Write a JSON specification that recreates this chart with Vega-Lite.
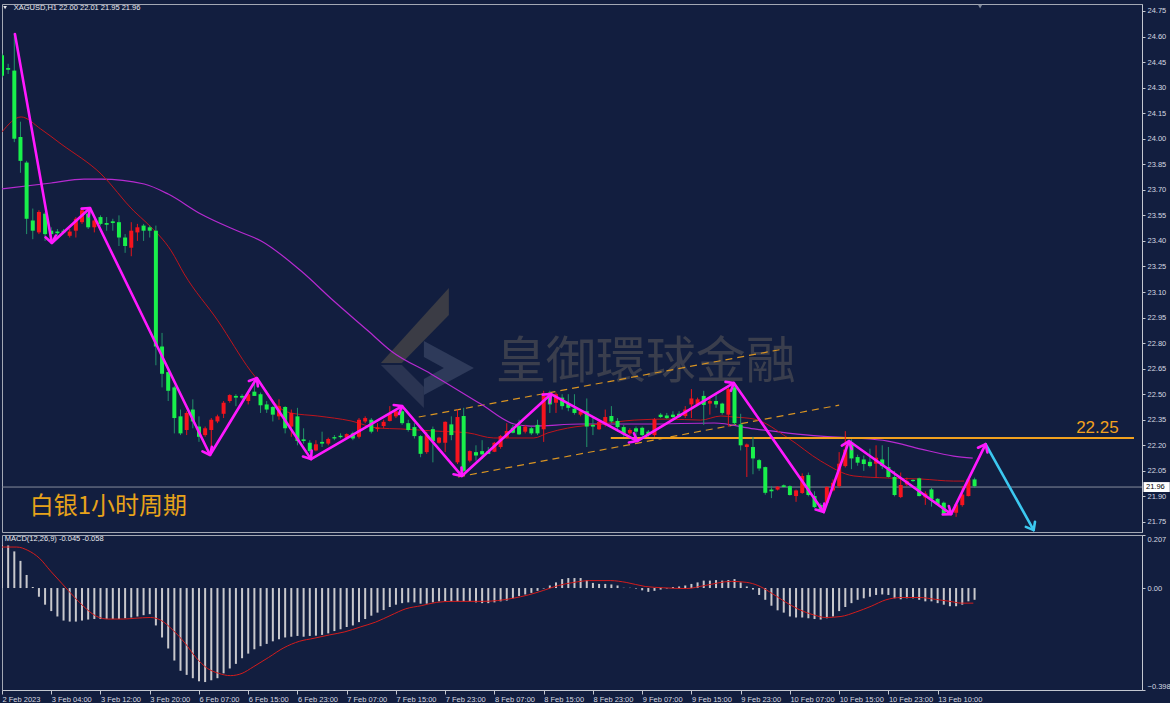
{
"$schema":"https://vega.github.io/schema/vega-lite/v6.json",
"background":"#121e3f",
"padding":{"left":1,"top":3,"right":0,"bottom":0},
"spacing":3,
"bounds":"flush",
"config":{
 "view":{"stroke":"#a3a8b4","strokeWidth":1},
 "scale":{"continuousPadding":0},
 "axis":{"labelColor":"#d6d9e0","tickColor":"#c3c7d0","domainColor":"#c3c7d0","labelFont":"Liberation Sans","labelFontSize":7.5,"grid":false,"tickSize":3,"labelPadding":2,"labelOverlap":false,"labelSeparation":0},
 "text":{"font":"Liberation Sans"}
},
"datasets":{
"candles":[
{"i":0,"o":24.49,"h":24.5,"l":24.36,"c":24.37},
{"i":1,"o":24.415,"h":24.44,"l":24.38,"c":24.405},
{"i":2,"o":24.4,"h":24.62,"l":23.98,"c":24.0},
{"i":3,"o":24.01,"h":24.1,"l":23.8,"c":23.87},
{"i":4,"o":23.86,"h":23.87,"l":23.44,"c":23.53},
{"i":5,"o":23.52,"h":23.59,"l":23.41,"c":23.46},
{"i":6,"o":23.45,"h":23.58,"l":23.44,"c":23.57},
{"i":7,"o":23.56,"h":23.57,"l":23.4,"c":23.44},
{"i":8,"o":23.46,"h":23.48,"l":23.42,"c":23.44},
{"i":9,"o":23.455,"h":23.47,"l":23.43,"c":23.445},
{"i":10,"o":23.46,"h":23.47,"l":23.44,"c":23.45},
{"i":11,"o":23.43,"h":23.47,"l":23.42,"c":23.455},
{"i":12,"o":23.46,"h":23.54,"l":23.42,"c":23.53},
{"i":13,"o":23.51,"h":23.59,"l":23.5,"c":23.58},
{"i":14,"o":23.56,"h":23.6,"l":23.47,"c":23.48},
{"i":15,"o":23.48,"h":23.53,"l":23.45,"c":23.52},
{"i":16,"o":23.54,"h":23.55,"l":23.49,"c":23.5},
{"i":17,"o":23.505,"h":23.54,"l":23.46,"c":23.495},
{"i":18,"o":23.515,"h":23.53,"l":23.46,"c":23.505},
{"i":19,"o":23.51,"h":23.55,"l":23.37,"c":23.42},
{"i":20,"o":23.42,"h":23.44,"l":23.33,"c":23.37},
{"i":21,"o":23.36,"h":23.51,"l":23.31,"c":23.46},
{"i":22,"o":23.45,"h":23.5,"l":23.4,"c":23.48},
{"i":23,"o":23.49,"h":23.5,"l":23.4,"c":23.46},
{"i":24,"o":23.48,"h":23.49,"l":23.42,"c":23.46},
{"i":25,"o":23.46,"h":23.49,"l":22.67,"c":22.78},
{"i":26,"o":22.78,"h":22.86,"l":22.54,"c":22.62},
{"i":27,"o":22.63,"h":22.65,"l":22.46,"c":22.52},
{"i":28,"o":22.54,"h":22.55,"l":22.27,"c":22.36},
{"i":29,"o":22.37,"h":22.41,"l":22.26,"c":22.27},
{"i":30,"o":22.29,"h":22.4,"l":22.26,"c":22.39},
{"i":31,"o":22.41,"h":22.47,"l":22.3,"c":22.34},
{"i":32,"o":22.31,"h":22.37,"l":22.22,"c":22.25},
{"i":33,"o":22.26,"h":22.31,"l":22.25,"c":22.3},
{"i":34,"o":22.29,"h":22.36,"l":22.155,"c":22.35},
{"i":35,"o":22.34,"h":22.38,"l":22.33,"c":22.37},
{"i":36,"o":22.385,"h":22.46,"l":22.36,"c":22.45},
{"i":37,"o":22.46,"h":22.5,"l":22.45,"c":22.495},
{"i":38,"o":22.49,"h":22.5,"l":22.43,"c":22.48},
{"i":39,"o":22.49,"h":22.5,"l":22.47,"c":22.48},
{"i":40,"o":22.46,"h":22.51,"l":22.44,"c":22.5},
{"i":41,"o":22.515,"h":22.59,"l":22.49,"c":22.49},
{"i":42,"o":22.5,"h":22.51,"l":22.39,"c":22.435},
{"i":43,"o":22.44,"h":22.46,"l":22.39,"c":22.41},
{"i":44,"o":22.425,"h":22.43,"l":22.34,"c":22.38},
{"i":45,"o":22.37,"h":22.47,"l":22.35,"c":22.43},
{"i":46,"o":22.425,"h":22.43,"l":22.27,"c":22.3},
{"i":47,"o":22.31,"h":22.41,"l":22.25,"c":22.39},
{"i":48,"o":22.37,"h":22.42,"l":22.2,"c":22.225},
{"i":49,"o":22.235,"h":22.3,"l":22.21,"c":22.225},
{"i":50,"o":22.215,"h":22.23,"l":22.155,"c":22.166},
{"i":51,"o":22.17,"h":22.23,"l":22.165,"c":22.206},
{"i":52,"o":22.22,"h":22.28,"l":22.19,"c":22.21},
{"i":53,"o":22.21,"h":22.245,"l":22.2,"c":22.237},
{"i":54,"o":22.248,"h":22.26,"l":22.23,"c":22.24},
{"i":55,"o":22.256,"h":22.27,"l":22.24,"c":22.248},
{"i":56,"o":22.244,"h":22.27,"l":22.24,"c":22.266},
{"i":57,"o":22.27,"h":22.28,"l":22.23,"c":22.24},
{"i":58,"o":22.25,"h":22.36,"l":22.24,"c":22.35},
{"i":59,"o":22.34,"h":22.37,"l":22.33,"c":22.36},
{"i":60,"o":22.35,"h":22.36,"l":22.27,"c":22.28},
{"i":61,"o":22.295,"h":22.33,"l":22.28,"c":22.305},
{"i":62,"o":22.313,"h":22.35,"l":22.3,"c":22.338},
{"i":63,"o":22.343,"h":22.43,"l":22.34,"c":22.385},
{"i":64,"o":22.37,"h":22.41,"l":22.36,"c":22.4},
{"i":65,"o":22.4,"h":22.43,"l":22.32,"c":22.33},
{"i":66,"o":22.33,"h":22.35,"l":22.28,"c":22.29},
{"i":67,"o":22.307,"h":22.33,"l":22.24,"c":22.254},
{"i":68,"o":22.254,"h":22.26,"l":22.13,"c":22.15},
{"i":69,"o":22.16,"h":22.28,"l":22.15,"c":22.26},
{"i":70,"o":22.295,"h":22.31,"l":22.1,"c":22.225},
{"i":71,"o":22.215,"h":22.25,"l":22.21,"c":22.245},
{"i":72,"o":22.215,"h":22.34,"l":22.16,"c":22.338},
{"i":73,"o":22.323,"h":22.37,"l":22.23,"c":22.26},
{"i":74,"o":22.1,"h":22.41,"l":22.09,"c":22.366},
{"i":75,"o":22.372,"h":22.42,"l":22.04,"c":22.05},
{"i":76,"o":22.11,"h":22.17,"l":22.1,"c":22.166},
{"i":77,"o":22.16,"h":22.2,"l":22.11,"c":22.14},
{"i":78,"o":22.166,"h":22.23,"l":22.12,"c":22.147},
{"i":79,"o":22.166,"h":22.19,"l":22.15,"c":22.15},
{"i":80,"o":22.162,"h":22.22,"l":22.16,"c":22.215},
{"i":81,"o":22.19,"h":22.26,"l":22.18,"c":22.254},
{"i":82,"o":22.245,"h":22.33,"l":22.24,"c":22.284},
{"i":83,"o":22.303,"h":22.32,"l":22.27,"c":22.274},
{"i":84,"o":22.313,"h":22.35,"l":22.26,"c":22.264},
{"i":85,"o":22.28,"h":22.32,"l":22.27,"c":22.31},
{"i":86,"o":22.3,"h":22.31,"l":22.26,"c":22.27},
{"i":87,"o":22.32,"h":22.35,"l":22.26,"c":22.27},
{"i":88,"o":22.294,"h":22.52,"l":22.22,"c":22.49},
{"i":89,"o":22.5,"h":22.52,"l":22.39,"c":22.44},
{"i":90,"o":22.45,"h":22.51,"l":22.39,"c":22.5},
{"i":91,"o":22.48,"h":22.5,"l":22.41,"c":22.43},
{"i":92,"o":22.445,"h":22.5,"l":22.4,"c":22.42},
{"i":93,"o":22.415,"h":22.5,"l":22.38,"c":22.39},
{"i":94,"o":22.38,"h":22.41,"l":22.37,"c":22.4},
{"i":95,"o":22.4,"h":22.475,"l":22.19,"c":22.31},
{"i":96,"o":22.32,"h":22.37,"l":22.26,"c":22.31},
{"i":97,"o":22.294,"h":22.35,"l":22.29,"c":22.338},
{"i":98,"o":22.32,"h":22.41,"l":22.31,"c":22.366},
{"i":99,"o":22.372,"h":22.43,"l":22.33,"c":22.34},
{"i":100,"o":22.343,"h":22.36,"l":22.28,"c":22.307},
{"i":101,"o":22.307,"h":22.32,"l":22.25,"c":22.264},
{"i":102,"o":22.27,"h":22.3,"l":22.26,"c":22.29},
{"i":103,"o":22.3,"h":22.31,"l":22.22,"c":22.28},
{"i":104,"o":22.303,"h":22.31,"l":22.25,"c":22.26},
{"i":105,"o":22.28,"h":22.29,"l":22.25,"c":22.26},
{"i":106,"o":22.26,"h":22.36,"l":22.25,"c":22.352},
{"i":107,"o":22.38,"h":22.39,"l":22.36,"c":22.366},
{"i":108,"o":22.375,"h":22.39,"l":22.355,"c":22.36},
{"i":109,"o":22.38,"h":22.4,"l":22.36,"c":22.366},
{"i":110,"o":22.385,"h":22.4,"l":22.36,"c":22.366},
{"i":111,"o":22.372,"h":22.43,"l":22.36,"c":22.41},
{"i":112,"o":22.44,"h":22.53,"l":22.36,"c":22.475},
{"i":113,"o":22.44,"h":22.48,"l":22.43,"c":22.47},
{"i":114,"o":22.49,"h":22.52,"l":22.32,"c":22.437},
{"i":115,"o":22.445,"h":22.48,"l":22.38,"c":22.46},
{"i":116,"o":22.46,"h":22.5,"l":22.42,"c":22.44},
{"i":117,"o":22.445,"h":22.45,"l":22.38,"c":22.39},
{"i":118,"o":22.38,"h":22.54,"l":22.31,"c":22.53},
{"i":119,"o":22.54,"h":22.57,"l":22.32,"c":22.33},
{"i":120,"o":22.323,"h":22.385,"l":22.17,"c":22.2},
{"i":121,"o":22.19,"h":22.21,"l":22.014,"c":22.205},
{"i":122,"o":22.19,"h":22.25,"l":22.03,"c":22.123},
{"i":123,"o":22.113,"h":22.12,"l":22.05,"c":22.064},
{"i":124,"o":22.072,"h":22.075,"l":21.91,"c":21.921},
{"i":125,"o":21.94,"h":21.96,"l":21.89,"c":21.93},
{"i":126,"o":21.94,"h":21.96,"l":21.935,"c":21.957},
{"i":127,"o":21.965,"h":21.97,"l":21.95,"c":21.955},
{"i":128,"o":21.96,"h":21.965,"l":21.905,"c":21.908},
{"i":129,"o":21.902,"h":21.94,"l":21.868,"c":21.935},
{"i":130,"o":21.92,"h":22.035,"l":21.915,"c":22.02},
{"i":131,"o":22.025,"h":22.04,"l":21.9,"c":21.908},
{"i":132,"o":21.902,"h":21.93,"l":21.83,"c":21.837},
{"i":133,"o":21.85,"h":21.86,"l":21.81,"c":21.82},
{"i":134,"o":21.863,"h":21.96,"l":21.86,"c":21.955},
{"i":135,"o":21.935,"h":22.0,"l":21.93,"c":21.98},
{"i":136,"o":21.96,"h":22.16,"l":21.95,"c":22.092},
{"i":137,"o":22.078,"h":22.283,"l":22.07,"c":22.175},
{"i":138,"o":22.215,"h":22.235,"l":22.06,"c":22.123},
{"i":139,"o":22.131,"h":22.145,"l":22.08,"c":22.098},
{"i":140,"o":22.117,"h":22.14,"l":22.05,"c":22.09},
{"i":141,"o":22.103,"h":22.18,"l":22.07,"c":22.078},
{"i":142,"o":22.092,"h":22.2,"l":22.01,"c":22.127},
{"i":143,"o":22.117,"h":22.2,"l":22.06,"c":22.078},
{"i":144,"o":22.072,"h":22.19,"l":22.01,"c":22.014},
{"i":145,"o":22.014,"h":22.05,"l":21.9,"c":21.908},
{"i":146,"o":21.896,"h":22.04,"l":21.89,"c":21.967},
{"i":147,"o":21.97,"h":22.01,"l":21.96,"c":21.99},
{"i":148,"o":21.997,"h":22.0,"l":21.985,"c":21.99},
{"i":149,"o":22.006,"h":22.01,"l":21.9,"c":21.902},
{"i":150,"o":21.894,"h":21.93,"l":21.85,"c":21.917},
{"i":151,"o":21.941,"h":21.95,"l":21.84,"c":21.883},
{"i":152,"o":21.886,"h":21.89,"l":21.85,"c":21.853},
{"i":153,"o":21.863,"h":21.87,"l":21.79,"c":21.795},
{"i":154,"o":21.818,"h":21.83,"l":21.79,"c":21.795},
{"i":155,"o":21.804,"h":21.86,"l":21.78,"c":21.853},
{"i":156,"o":21.849,"h":21.96,"l":21.84,"c":21.911},
{"i":157,"o":21.902,"h":22.01,"l":21.9,"c":22.0},
{"i":158,"o":22.0,"h":22.01,"l":21.95,"c":21.96}
],
"macd":[
{"i":0,"v":0.168},{"i":1,"v":0.166},{"i":2,"v":0.143},{"i":3,"v":0.106},{"i":4,"v":0.051},{"i":5,"v":0.004},{"i":6,"v":-0.034},{"i":7,"v":-0.065},{"i":8,"v":-0.09},{"i":9,"v":-0.111},
{"i":10,"v":-0.127},{"i":11,"v":-0.131},{"i":12,"v":-0.131},{"i":13,"v":-0.127},{"i":14,"v":-0.123},{"i":15,"v":-0.121},{"i":16,"v":-0.121},{"i":17,"v":-0.121},{"i":18,"v":-0.121},{"i":19,"v":-0.121},
{"i":20,"v":-0.118},{"i":21,"v":-0.115},{"i":22,"v":-0.111},{"i":23,"v":-0.106},{"i":24,"v":-0.102},{"i":25,"v":-0.146},{"i":26,"v":-0.193},{"i":27,"v":-0.236},{"i":28,"v":-0.283},{"i":29,"v":-0.323},
{"i":30,"v":-0.339},{"i":31,"v":-0.352},{"i":32,"v":-0.364},{"i":33,"v":-0.367},{"i":34,"v":-0.36},{"i":35,"v":-0.352},{"i":36,"v":-0.333},{"i":37,"v":-0.314},{"i":38,"v":-0.296},{"i":39,"v":-0.274},
{"i":40,"v":-0.256},{"i":41,"v":-0.239},{"i":42,"v":-0.227},{"i":43,"v":-0.218},{"i":44,"v":-0.208},{"i":45,"v":-0.2},{"i":46,"v":-0.193},{"i":47,"v":-0.19},{"i":48,"v":-0.187},{"i":49,"v":-0.19},
{"i":50,"v":-0.187},{"i":51,"v":-0.186},{"i":52,"v":-0.183},{"i":53,"v":-0.177},{"i":54,"v":-0.168},{"i":55,"v":-0.161},{"i":56,"v":-0.152},{"i":57,"v":-0.146},{"i":58,"v":-0.133},{"i":59,"v":-0.121},
{"i":60,"v":-0.108},{"i":61,"v":-0.096},{"i":62,"v":-0.086},{"i":63,"v":-0.074},{"i":64,"v":-0.065},{"i":65,"v":-0.059},{"i":66,"v":-0.056},{"i":67,"v":-0.056},{"i":68,"v":-0.061},{"i":69,"v":-0.061},
{"i":70,"v":-0.056},{"i":71,"v":-0.052},{"i":72,"v":-0.052},{"i":73,"v":-0.052},{"i":74,"v":-0.052},{"i":75,"v":-0.052},{"i":76,"v":-0.052},{"i":77,"v":-0.056},{"i":78,"v":-0.059},{"i":79,"v":-0.059},
{"i":80,"v":-0.056},{"i":81,"v":-0.052},{"i":82,"v":-0.049},{"i":83,"v":-0.04},{"i":84,"v":-0.031},{"i":85,"v":-0.025},{"i":86,"v":-0.019},{"i":87,"v":-0.011},{"i":88,"v":-0.002},{"i":89,"v":0.01},
{"i":90,"v":0.022},{"i":91,"v":0.035},{"i":92,"v":0.039},{"i":93,"v":0.039},{"i":94,"v":0.039},{"i":95,"v":0.031},{"i":96,"v":0.02},{"i":97,"v":0.016},{"i":98,"v":0.016},{"i":99,"v":0.014},
{"i":100,"v":0.01},{"i":101,"v":0.001},{"i":102,"v":0.001},{"i":103,"v":-0.002},{"i":104,"v":-0.009},{"i":105,"v":-0.015},{"i":106,"v":-0.011},{"i":107,"v":-0.006},{"i":108,"v":-0.002},{"i":109,"v":0.004},
{"i":110,"v":0.006},{"i":111,"v":0.01},{"i":112,"v":0.016},{"i":113,"v":0.022},{"i":114,"v":0.029},{"i":115,"v":0.029},{"i":116,"v":0.031},{"i":117,"v":0.029},{"i":118,"v":0.031},{"i":119,"v":0.035},
{"i":120,"v":0.022},{"i":121,"v":0.006},{"i":122,"v":-0.006},{"i":123,"v":-0.027},{"i":124,"v":-0.046},{"i":125,"v":-0.069},{"i":126,"v":-0.087},{"i":127,"v":-0.096},{"i":128,"v":-0.111},{"i":129,"v":-0.115},
{"i":130,"v":-0.115},{"i":131,"v":-0.118},{"i":132,"v":-0.121},{"i":133,"v":-0.123},{"i":134,"v":-0.118},{"i":135,"v":-0.111},{"i":136,"v":-0.09},{"i":137,"v":-0.074},{"i":138,"v":-0.059},{"i":139,"v":-0.046},
{"i":140,"v":-0.04},{"i":141,"v":-0.034},{"i":142,"v":-0.027},{"i":143,"v":-0.025},{"i":144,"v":-0.027},{"i":145,"v":-0.04},{"i":146,"v":-0.044},{"i":147,"v":-0.04},{"i":148,"v":-0.04},{"i":149,"v":-0.046},
{"i":150,"v":-0.052},{"i":151,"v":-0.052},{"i":152,"v":-0.059},{"i":153,"v":-0.065},{"i":154,"v":-0.071},{"i":155,"v":-0.071},{"i":156,"v":-0.065},{"i":157,"v":-0.052},{"i":158,"v":-0.046}
],
"signal":[
{"i":0,"v":0.16},{"i":2.4,"v":0.16},{"i":4.2,"v":0.147},{"i":6.1,"v":0.116},{"i":7.9,"v":0.066},{"i":9.8,"v":0.016},{"i":11.7,"v":-0.034},{"i":13.5,"v":-0.077},{"i":15.4,"v":-0.111},{"i":17.2,"v":-0.121},
{"i":19.7,"v":-0.121},{"i":21.6,"v":-0.118},{"i":24.1,"v":-0.115},{"i":25.9,"v":-0.127},{"i":27.8,"v":-0.165},{"i":29.7,"v":-0.214},{"i":31.5,"v":-0.271},{"i":33.4,"v":-0.314},{"i":35.2,"v":-0.333},{"i":37.1,"v":-0.342},
{"i":39.0,"v":-0.333},{"i":40.8,"v":-0.308},{"i":43.3,"v":-0.271},{"i":45.8,"v":-0.233},{"i":48.3,"v":-0.208},{"i":50.7,"v":-0.196},{"i":53.2,"v":-0.183},{"i":55.7,"v":-0.171},{"i":58.2,"v":-0.152},{"i":60.7,"v":-0.133},
{"i":63.2,"v":-0.106},{"i":65.6,"v":-0.081},{"i":68.1,"v":-0.069},{"i":70.6,"v":-0.056},{"i":73.1,"v":-0.052},{"i":78.0,"v":-0.052},{"i":80.5,"v":-0.049},{"i":83.0,"v":-0.04},{"i":85.5,"v":-0.027},{"i":88.0,"v":-0.009},
{"i":90.4,"v":0.01},{"i":92.9,"v":0.022},{"i":95.4,"v":0.029},{"i":98.9,"v":0.029},{"i":101.4,"v":0.022},{"i":104.5,"v":0.006},{"i":107.5,"v":0.001},{"i":111.2,"v":-0.002},{"i":114.2,"v":0.01},{"i":118.5,"v":0.026},
{"i":121.0,"v":0.022},{"i":122.8,"v":0.01},{"i":124.7,"v":-0.015},{"i":127.1,"v":-0.052},{"i":129.5,"v":-0.084},{"i":132.0,"v":-0.106},{"i":133.8,"v":-0.115},{"i":136.3,"v":-0.111},{"i":138.7,"v":-0.094},{"i":141.2,"v":-0.071},
{"i":143.6,"v":-0.046},{"i":146.1,"v":-0.037},{"i":149.1,"v":-0.037},{"i":151.6,"v":-0.044},{"i":154.0,"v":-0.052},{"i":155.9,"v":-0.059},{"i":157.8,"v":-0.059}
],
"lines":[
{"n":"r","i":0,"p":24.04},{"n":"r","i":3.1,"p":24.128},{"n":"r","i":6.3,"p":24.057},{"n":"r","i":9.6,"p":23.969},{"n":"r","i":16.1,"p":23.793},{"n":"r","i":21.4,"p":23.576},{"n":"r","i":23.7,"p":23.499},{"n":"r","i":27.5,"p":23.341},{"n":"r","i":29.6,"p":23.206},{"n":"r","i":35.1,"p":22.93},
{"n":"r","i":40.4,"p":22.636},{"n":"r","i":42.6,"p":22.536},{"n":"r","i":44.8,"p":22.43},{"n":"r","i":46.9,"p":22.39},{"n":"r","i":51.3,"p":22.372},{"n":"r","i":56.7,"p":22.343},{"n":"r","i":61.1,"p":22.301},{"n":"r","i":64.8,"p":22.296},{"n":"r","i":70.2,"p":22.284},{"n":"r","i":75.7,"p":22.273},
{"n":"r","i":79.9,"p":22.243},{"n":"r","i":86.4,"p":22.243},{"n":"r","i":88.7,"p":22.273},{"n":"r","i":91.9,"p":22.301},{"n":"r","i":97.3,"p":22.325},{"n":"r","i":102.7,"p":22.348},{"n":"r","i":108.2,"p":22.354},{"n":"r","i":113.5,"p":22.348},{"n":"r","i":116.8,"p":22.372},{"n":"r","i":118.9,"p":22.366},
{"n":"r","i":122.2,"p":22.354},{"n":"r","i":127.7,"p":22.243},{"n":"r","i":133.0,"p":22.108},{"n":"r","i":138.4,"p":22.02},{"n":"r","i":143.9,"p":22.008},{"n":"r","i":149.3,"p":22.002},{"n":"r","i":154.6,"p":21.99},{"n":"r","i":156.3,"p":21.99},
{"n":"v","i":0,"p":23.705},{"n":"v","i":8.0,"p":23.74},{"n":"v","i":13.3,"p":23.763},{"n":"v","i":16.1,"p":23.763},{"n":"v","i":23.1,"p":23.734},{"n":"v","i":27.0,"p":23.675},{"n":"v","i":32.3,"p":23.558},{"n":"v","i":38.3,"p":23.458},{"n":"v","i":42.1,"p":23.4},{"n":"v","i":48.6,"p":23.223},
{"n":"v","i":53.9,"p":23.047},{"n":"v","i":59.5,"p":22.871},{"n":"v","i":63.2,"p":22.754},{"n":"v","i":69.7,"p":22.619},{"n":"v","i":77.8,"p":22.442},{"n":"v","i":83.2,"p":22.325},{"n":"v","i":85.9,"p":22.313},{"n":"v","i":94.1,"p":22.325},{"n":"v","i":104.9,"p":22.325},{"n":"v","i":115.7,"p":22.331},
{"n":"v","i":122.2,"p":22.296},{"n":"v","i":127.7,"p":22.272},{"n":"v","i":133.0,"p":22.254},{"n":"v","i":138.4,"p":22.243},{"n":"v","i":143.9,"p":22.225},{"n":"v","i":149.3,"p":22.178},{"n":"v","i":154.6,"p":22.137},{"n":"v","i":157.7,"p":22.125},
{"n":"u","i":67.7,"p":22.366},{"n":"u","i":126.9,"p":22.765},
{"n":"d","i":74.1,"p":22.014},{"n":"d","i":136.0,"p":22.436}
],
"zig":[
{"g":"m","k":0,"i":2.1,"p":24.615},
{"g":"m","k":1,"i":8.1,"p":23.388},
{"g":"m","k":2,"i":14.3,"p":23.593},
{"g":"m","k":3,"i":33.8,"p":22.143},
{"g":"m","k":4,"i":41.4,"p":22.595},
{"g":"m","k":5,"i":50.2,"p":22.119},
{"g":"m","k":6,"i":65.0,"p":22.43},
{"g":"m","k":7,"i":74.7,"p":22.02},
{"g":"m","k":8,"i":89.2,"p":22.501},
{"g":"m","k":9,"i":103.2,"p":22.225},
{"g":"m","k":10,"i":118.9,"p":22.566},
{"g":"m","k":11,"i":133.5,"p":21.808},
{"g":"m","k":12,"i":137.6,"p":22.225},
{"g":"m","k":13,"i":154.2,"p":21.796},
{"g":"m","k":14,"i":159.8,"p":22.207},
{"g":"c","k":0,"i":159.8,"p":22.207},
{"g":"c","k":1,"i":167.6,"p":21.702}
]
},
"vconcat":[
{"width":1140,"height":528,"resolve":{"axis":{"y":"independent"}},"layer":[
 {"data":{"values":[{}]},"mark":{"type":"point","shape":"M 0.48 -1.2 L 0.48 -0.66 L -0.46 0.3 L -0.88 0.3 Z","filled":true,"color":"#3b3c45","size":10000,"opacity":1},
  "encoding":{"x":{"datum":68.7,"type":"quantitative","scale":{"domain":[0,185.2],"nice":false,"zero":false,"padding":0},"axis":null},
   "y":{"datum":22.771,"type":"quantitative","scale":{"domain":[21.691,24.791],"nice":false,"zero":false,"padding":0},
    "axis":{"orient":"right","title":null,"values":[21.75,21.9,22.05,22.2,22.35,22.5,22.65,22.8,22.95,23.1,23.25,23.4,23.55,23.7,23.85,24.0,24.15,24.3,24.45,24.6,24.75],"format":".2f","labelOverlap":false,"labelSeparation":0,"labelFlush":false}}}},
 {"data":{"values":[{}]},"mark":{"type":"point","shape":"M -0.88 0.34 L -0.46 0.34 L -0.02 0.78 L -0.02 1.2 Z","filled":true,"color":"#2a3452","size":10000,"opacity":1},
  "encoding":{"x":{"datum":68.7,"type":"quantitative","axis":null},"y":{"datum":22.771,"type":"quantitative","axis":null}}},
 {"data":{"values":[{}]},"mark":{"type":"point","shape":"M -0.02 -0.14 L 0.98 0.4 L -0.02 0.94 L -0.02 0.62 L 0.38 0.4 L -0.02 0.18 Z","filled":true,"color":"#2e3a5a","size":10000,"opacity":1},
  "encoding":{"x":{"datum":68.7,"type":"quantitative","axis":null},"y":{"datum":22.771,"type":"quantitative","axis":null}}},
 {"data":{"values":[{}]},"mark":{"type":"text","text":"皇御環球金融","font":"Noto Sans CJK TC","fontSize":50,"color":"#3a3e4d","align":"center","baseline":"middle"},
  "encoding":{"x":{"datum":104.6,"type":"quantitative","axis":null},"y":{"datum":22.683,"type":"quantitative","axis":null}}},
 {"data":{"name":"lines"},"transform":[{"filter":"datum.n == 'u' || datum.n == 'd'"}],"mark":{"type":"line","color":"#d99422","strokeWidth":1.2,"strokeDash":[7,5]},
  "encoding":{"x":{"field":"i","type":"quantitative","axis":null},"y":{"field":"p","type":"quantitative","axis":null},"detail":{"field":"n"}}},
 {"data":{"name":"lines"},"transform":[{"filter":"datum.n == 'v'"}],"mark":{"type":"line","color":"#b62ad0","strokeWidth":1.2,"interpolate":"monotone","clip":true},
  "encoding":{"x":{"field":"i","type":"quantitative","axis":null},"y":{"field":"p","type":"quantitative","axis":null}}},
 {"data":{"name":"lines"},"transform":[{"filter":"datum.n == 'r'"}],"mark":{"type":"line","color":"#c0141c","strokeWidth":1,"interpolate":"monotone","clip":true},
  "encoding":{"x":{"field":"i","type":"quantitative","axis":null},"y":{"field":"p","type":"quantitative","axis":null}}},
 {"data":{"values":[{}]},"mark":{"type":"rule","color":"#f2a11e","strokeWidth":2},
  "encoding":{"x":{"datum":98.9,"type":"quantitative","axis":null},"x2":{"datum":183.9},"y":{"datum":22.243,"type":"quantitative","axis":null}}},
 {"data":{"values":[{}]},"mark":{"type":"text","text":"22.25","fontSize":17,"color":"#f2a11e","align":"left","baseline":"alphabetic"},
  "encoding":{"x":{"datum":174.5,"type":"quantitative","axis":null},"y":{"datum":22.274,"type":"quantitative","axis":null}}},
 {"data":{"values":[{}]},"mark":{"type":"rule","color":"#868c9c","strokeWidth":1},
  "encoding":{"y":{"datum":21.955,"type":"quantitative","axis":null}}},
 {"data":{"name":"candles"},"mark":{"type":"rule","strokeWidth":1,"clip":true},
  "encoding":{"x":{"field":"i","type":"quantitative","axis":null},"y":{"field":"l","type":"quantitative","axis":null},"y2":{"field":"h"},
   "color":{"condition":{"test":"datum.c < datum.o","value":"#23916a"},"value":"#e4141c"}}},
 {"data":{"name":"candles"},"mark":{"type":"bar","width":4,"clip":true},
  "encoding":{"x":{"field":"i","type":"quantitative","axis":null,"scale":{"padding":0}},"y":{"field":"o","type":"quantitative","axis":null},"y2":{"field":"c"},
   "color":{"condition":{"test":"datum.c < datum.o","value":"#19f04b"},"value":"#f5141e"}}},
 {"data":{"name":"zig"},"mark":{"type":"line","strokeWidth":2.6,"strokeCap":"round","strokeJoin":"round","clip":true},
  "encoding":{"x":{"field":"i","type":"quantitative","axis":null},"y":{"field":"p","type":"quantitative","axis":null},"order":{"field":"k"},
   "color":{"field":"g","type":"nominal","scale":{"domain":["m","c"],"range":["#ff19ff","#3cc8f0"]},"legend":null}}},
 {"data":{"name":"zig"},
  "transform":[{"window":[{"op":"lag","field":"i","as":"pi"},{"op":"lag","field":"p","as":"pp"}],"groupby":["g"],"sort":[{"field":"k"}]},
   {"filter":"isValid(datum.pi)"},
   {"calculate":"atan2((datum.i - datum.pi) * 6.156, (datum.p - datum.pp) * 170.3) * 180 / PI","as":"ang"}],
  "mark":{"type":"point","shape":"M -0.75 0.95 L 0 0 L 0.75 0.95","filled":false,"size":196,"strokeWidth":2.6,"opacity":1,"strokeCap":"round","strokeJoin":"round","clip":true},
  "encoding":{"x":{"field":"i","type":"quantitative","axis":null},"y":{"field":"p","type":"quantitative","axis":null},"angle":{"field":"ang","type":"quantitative","scale":null},
   "color":{"field":"g","type":"nominal","scale":{"domain":["m","c"],"range":["#ff19ff","#3cc8f0"]},"legend":null}}},
 {"data":{"values":[{}]},"mark":{"type":"point","shape":"triangle-down","filled":true,"size":14,"color":"#e8e8ec","opacity":1,"clip":true},
  "encoding":{"x":{"datum":0.5,"type":"quantitative","axis":null},"y":{"datum":24.77,"type":"quantitative","axis":null}}},
 {"data":{"values":[{}]},"mark":{"type":"text","text":"XAGUSD,H1  22.00 22.01 21.95 21.96","fontSize":7.5,"color":"#e8e8ec","align":"left","baseline":"middle","clip":true},
  "encoding":{"x":{"datum":1.9,"type":"quantitative","axis":null},"y":{"datum":24.768,"type":"quantitative","axis":null}}},
 {"data":{"values":[{}]},"mark":{"type":"point","shape":"triangle-down","filled":true,"size":18,"color":"#7e8798","opacity":1,"clip":true},
  "encoding":{"x":{"datum":158.9,"type":"quantitative","axis":null},"y":{"datum":24.776,"type":"quantitative","axis":null}}},
 {"data":{"values":[{}]},"mark":{"type":"text","text":"白银1小时周期","font":"Noto Sans CJK SC","fontSize":24,"color":"#e8a31a","align":"left","baseline":"middle"},
  "encoding":{"x":{"datum":4.5,"type":"quantitative","axis":null},"y":{"datum":21.838,"type":"quantitative","axis":null}}},
 {"data":{"values":[{}]},"mark":{"type":"point","shape":"M 0.1 -0.33 L 1.85 -0.33 L 1.85 0.33 L 0.1 0.33 Z","filled":true,"size":900,"color":"#ffffff","opacity":1},
  "encoding":{"x":{"datum":185.2,"type":"quantitative","axis":null},"y":{"datum":21.955,"type":"quantitative","axis":null}}},
 {"data":{"values":[{}]},"mark":{"type":"text","text":"21.96","fontSize":7.5,"color":"#000000","align":"left","baseline":"middle","dx":4},
  "encoding":{"x":{"datum":185.2,"type":"quantitative","axis":null},"y":{"datum":21.955,"type":"quantitative","axis":null}}}
]},
{"width":1140,"height":155,"layer":[
 {"data":{"name":"macd"},"mark":{"type":"bar","width":2,"color":"#c8c8cc","clip":true},
  "encoding":{"x":{"field":"i","type":"quantitative","scale":{"domain":[0,185.2],"nice":false,"zero":false,"padding":0},
    "axis":{"title":null,"values":[0,8,16,24,32,40,48,56,64,72,80,88,96,104,112,120,128,136,144,152],"labelExpr":"['2 Feb 2023','3 Feb 04:00','3 Feb 12:00','3 Feb 20:00','6 Feb 07:00','6 Feb 15:00','6 Feb 23:00','7 Feb 07:00','7 Feb 15:00','7 Feb 23:00','8 Feb 07:00','8 Feb 15:00','8 Feb 23:00','9 Feb 07:00','9 Feb 15:00','9 Feb 23:00','10 Feb 07:00','10 Feb 15:00','10 Feb 23:00','13 Feb 10:00'][round(datum.value / 8)]","labelAlign":"left","tickSize":4,"labelPadding":1,"labelOverlap":false,"labelBound":false,"labelFlush":false}},
   "y":{"field":"v","type":"quantitative","stack":null,"scale":{"domain":[-0.398,0.207],"nice":false,"zero":false},
    "axis":{"orient":"right","title":null,"values":[-0.398,0,0.207],"labelExpr":"datum.value == 0 ? '0.00' : format(datum.value, '.3f')","labelFlush":true,"labelOverlap":false}},
   "y2":{"datum":0}}},
 {"data":{"name":"signal"},"mark":{"type":"line","color":"#d41c1c","strokeWidth":1,"interpolate":"monotone","clip":true},
  "encoding":{"x":{"field":"i","type":"quantitative"},"y":{"field":"v","type":"quantitative"}}},
 {"data":{"values":[{}]},"mark":{"type":"text","text":"MACD(12,26,9) -0.045 -0.058","fontSize":7.5,"color":"#e8e8ec","align":"left","baseline":"middle","clip":true},
  "encoding":{"x":{"datum":0.45,"type":"quantitative"},"y":{"datum":0.19,"type":"quantitative"}}}
]}
]
}
